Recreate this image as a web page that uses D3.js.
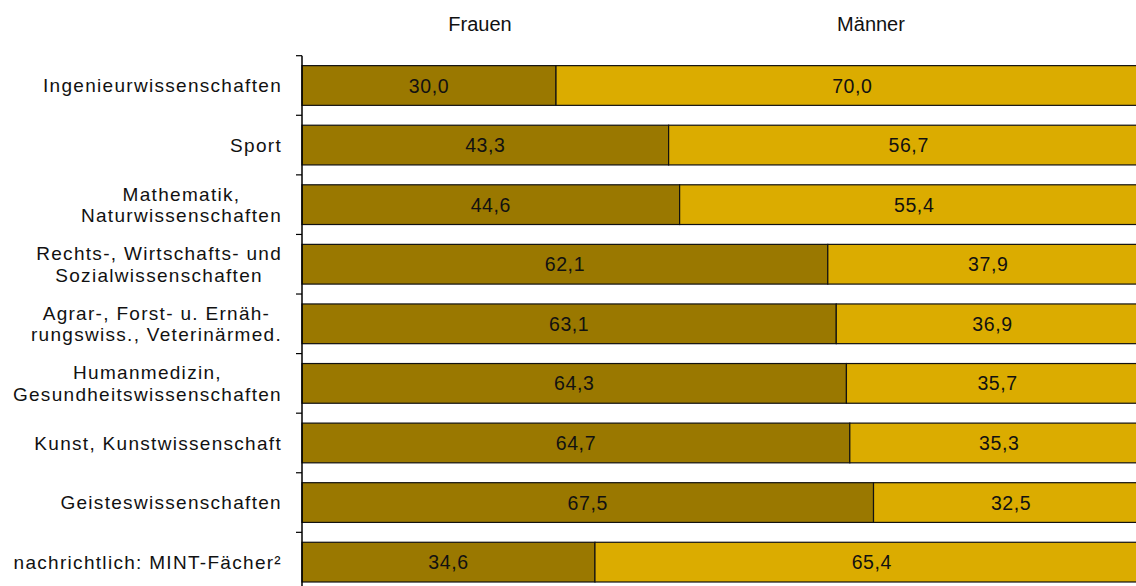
<!DOCTYPE html>
<html>
<head>
<meta charset="utf-8">
<script src="https://cdn.jsdelivr.net/npm/d3@7"></script>
<style>
  html, body { margin: 0; padding: 0; background: #fff; overflow: hidden; }
  svg { display: block; font-family: "Liberation Sans", Arial, sans-serif; }
</style>
</head>
<body>
<svg id="chart" width="1136" height="586"></svg>
<script>
const categories = [
  ["Ingenieurwissenschaften"],
  ["Sport"],
  ["Mathematik,", "Naturwissenschaften"],
  ["Rechts-, Wirtschafts- und", "Sozialwissenschaften"],
  ["Agrar-, Forst- u. Ernäh-", "rungswiss., Veterinärmed."],
  ["Humanmedizin,", "Gesundheitswissenschaften"],
  ["Kunst, Kunstwissenschaft"],
  ["Geisteswissenschaften"],
  ["nachrichtlich: MINT-Fächer²"]
];
const frauen = [30.0, 43.3, 44.6, 62.1, 63.1, 64.3, 64.7, 67.5, 34.6];
const maenner = [70.0, 56.7, 55.4, 37.9, 36.9, 35.7, 35.3, 32.5, 65.4];
const seriesNames = ["Frauen", "Männer"];
const colors = ["#9a7800", "#dbac00"];

const svg = d3.select("#chart");
const keys = categories.map((c, i) => i);
const x = d3.scaleLinear().domain([0, 100]).range([302, 1148.7]);
const y = d3.scaleBand().domain(keys).range([55.7, 55.7 + 9 * 59.58])
  .paddingInner(1 / 3).paddingOuter(1 / 6);

const fmt = v => v.toFixed(1).replace(".", ",");

// bars
const g = svg.append("g");
keys.forEach(i => {
  const segs = [
    { s: 0, x0: 0, x1: frauen[i], v: frauen[i] },
    { s: 1, x0: frauen[i], x1: frauen[i] + maenner[i], v: maenner[i] }
  ];
  segs.forEach(d => {
    g.append("rect")
      .attr("x", x(d.x0))
      .attr("y", y(i))
      .attr("width", x(d.x1) - x(d.x0))
      .attr("height", y.bandwidth())
      .attr("fill", colors[d.s])
      .attr("stroke", "#111")
      .attr("stroke-width", 1.2);
    g.append("text")
      .attr("x", (x(d.x0) + x(d.x1)) / 2)
      .attr("y", y(i) + y.bandwidth() / 2)
      .attr("dy", "0.36em")
      .attr("text-anchor", "middle")
      .attr("font-size", "19.5px")
      .attr("letter-spacing", "0.6px")
      .attr("fill", "#111")
      .text(fmt(d.v));
  });
});

// axis
const step = y.step();
const gap = step - y.bandwidth();
const boundaries = keys.map(i => y(i) - gap / 2).concat([y(keys[keys.length - 1]) + y.bandwidth() + gap / 2]);
const ax = svg.append("g");
ax.append("line")
  .attr("x1", 302).attr("x2", 302)
  .attr("y1", boundaries[0]).attr("y2", boundaries[boundaries.length - 1])
  .attr("stroke", "#000").attr("stroke-width", 1.5);
ax.selectAll("line.tick").data(boundaries).enter().append("line")
  .attr("class", "tick")
  .attr("x1", 296).attr("x2", 302)
  .attr("y1", d => d).attr("y2", d => d)
  .attr("stroke", "#000").attr("stroke-width", 1.2);

// category labels (block right-aligned, lines centered)
const labG = svg.append("g");
keys.forEach(i => {
  const lines = categories[i];
  const t = labG.append("g");
  const lh = 21.5;
  const cy = y(i) + y.bandwidth() / 2;
  const texts = lines.map((ln, k) =>
    t.append("text")
      .attr("y", cy + (k - (lines.length - 1) / 2) * lh)
      .attr("dy", "0.36em")
      .attr("text-anchor", "middle")
      .attr("font-size", "19px")
      .attr("letter-spacing", "1.3px")
      .attr("fill", "#111")
      .text(ln)
  );
  const widths = texts.map(tx => tx.node().getComputedTextLength());
  const maxW = d3.max(widths);
  texts.forEach(tx => tx.attr("x", 282 - maxW / 2));
});

// series headers
const headerX = [480, 871];
seriesNames.forEach((n, k) => {
  svg.append("text")
    .attr("x", headerX[k]).attr("y", 31)
    .attr("text-anchor", "middle")
    .attr("font-size", "20px")
    .attr("fill", "#111")
    .text(n);
});
</script>
</body>
</html>
